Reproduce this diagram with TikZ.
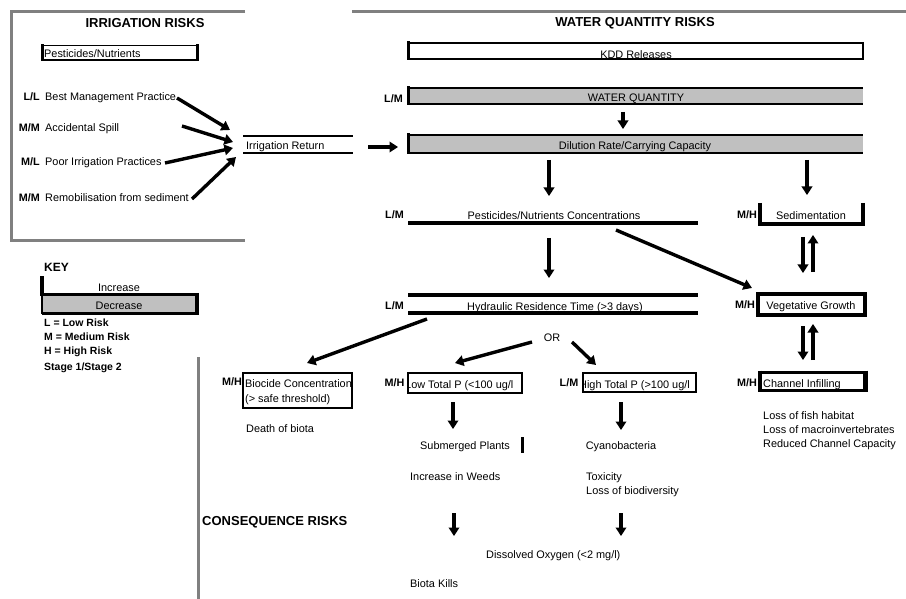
\documentclass[tikz,border=0pt]{standalone}
\usepackage{fontspec}
\setmainfont{Liberation Sans}
\usetikzlibrary{arrows.meta}
\definecolor{framegray}{RGB}{128,128,128}
\definecolor{boxgray}{RGB}{192,192,192}
\tikzset{
  txt/.style={font=\fontsize{10.9}{13}\selectfont, inner sep=0pt},
  risk/.style={font=\bfseries\fontsize{10.8}{13}\selectfont, inner sep=0pt},
  head/.style={font=\bfseries\fontsize{13}{15}\selectfont, inner sep=0pt},
  keytxt/.style={font=\bfseries\fontsize{10.5}{12}\selectfont, inner sep=0pt},
  frame/.style={draw=framegray, line width=3pt},
  arr/.style={-{Triangle[length=8.5pt,width=10.5pt]}, line width=3.4pt},
  bw/.style={line width=#1},
}
\begin{document}
\begin{tikzpicture}[x=1pt,y=-1pt]
\useasboundingbox (0,0) rectangle (906,599);
% frames
\draw[frame] (245,12) -- (11,12) -- (11,241) -- (245,241);
\draw[frame] (352,12) -- (906,12);
\draw[frame] (198,357) -- (198,599);
% headings
\node[head] (irrh) at (145,23) {IRRIGATION RISKS};
\node[head] (wqh) at (635,23) {WATER QUANTITY RISKS};
\node[head, anchor=mid west] (conh) at (202,523) {CONSEQUENCE RISKS};

% ---- irrigation side
\node[txt, anchor=base west] (pn) at (44,58) {Pesticides/Nutrients};
\draw[bw=1pt] (42,46) -- (197,46);
\draw[bw=2.5pt] (42,60) -- (197,60);
\draw[bw=3pt] (42,44.5) -- (42,61.5);
\draw[bw=3pt] (197,44.5) -- (197,61.5);

\node[risk, anchor=mid east] (r1) at (40,98) {L/L};
\node[risk, anchor=mid east] (r2) at (40,129) {M/M};
\node[risk, anchor=mid east] (r3) at (40,163) {M/L};
\node[risk, anchor=mid east] (r4) at (40,199) {M/M};
\node[txt, anchor=mid west] (bmp) at (45,98) {Best Management Practice};
\node[txt, anchor=mid west] (spill) at (45,129) {Accidental Spill};
\node[txt, anchor=mid west] (poor) at (45,163) {Poor Irrigation Practices};
\node[txt, anchor=mid west] (remob) at (45,199) {Remobilisation from sediment};

\node[txt, anchor=mid west] (irret) at (246,146.5) {Irrigation Return};
\draw[bw=1.5pt] (243,136) -- (353,136);
\draw[bw=2.5pt] (243,153) -- (353,153);

\coordinate (a1s) at (177,98);  \coordinate (a1e) at (230,130);
\coordinate (a2s) at (182,126); \coordinate (a2e) at (233,142);
\coordinate (a3s) at (165,163); \coordinate (a3e) at (233,148);
\coordinate (a4s) at (192,199); \coordinate (a4e) at (236,157);
\draw[arr] (a1s) -- (a1e);
\draw[arr] (a2s) -- (a2e);
\draw[arr] (a3s) -- (a3e);
\draw[arr] (a4s) -- (a4e);
\coordinate (a5s) at (368,147); \coordinate (a5e) at (398,147);
\draw[arr] (a5s) -- (a5e);

% ---- water quantity column
\node[txt, anchor=base] (kdd) at (636,58.5) {KDD Releases};
\draw[bw=2.5pt] (408,43) -- (863,43);
\draw[bw=2.5pt] (408,59) -- (863,59);
\draw[bw=3pt] (408,41.5) -- (408,60.5);
\draw[bw=1.5pt] (863,42) -- (863,60);

\fill[boxgray] (408,88) rectangle (863,104);
\node[txt, anchor=base] (wq) at (636,102) {WATER QUANTITY};
\draw[bw=1.2pt] (408,88) -- (863,88);
\draw[bw=2.5pt] (408,104) -- (863,104);
\draw[bw=3pt] (408,86.5) -- (408,105.5);
\node[risk, anchor=mid east] (rwq) at (403,100) {L/M};

\coordinate (a6s) at (623,112); \coordinate (a6e) at (623,129);
\draw[arr] (a6s) -- (a6e);

\fill[boxgray] (408,135) rectangle (863,153);
\node[txt, anchor=base] (dil) at (635,149.5) {Dilution Rate/Carrying Capacity};
\draw[bw=1.2pt] (408,135) -- (863,135);
\draw[bw=2.5pt] (408,153) -- (863,153);
\draw[bw=3pt] (408,133.5) -- (408,154.5);

\coordinate (a7s) at (549,160); \coordinate (a7e) at (549,196);
\draw[arr] (a7s) -- (a7e);
\coordinate (a8s) at (807,160); \coordinate (a8e) at (807,195);
\draw[arr] (a8s) -- (a8e);

\node[txt, anchor=base] (pnc) at (554,220) {Pesticides/Nutrients Concentrations};
\draw[bw=4pt] (408,223) -- (698,223);
\node[risk, anchor=mid east] (rpnc) at (404,216) {L/M};

\node[txt, anchor=base] (sed) at (811,220) {Sedimentation};
\draw[bw=3.5pt] (760,203) -- (760,225.75);
\draw[bw=3.5pt] (863,203) -- (863,225.75);
\draw[bw=3.5pt] (760,224) -- (863,224);
\node[risk, anchor=mid east] (rsed) at (757,216) {M/H};

\coordinate (a9s) at (616,230); \coordinate (a9e) at (752,288);
\draw[arr] (a9s) -- (a9e);
\coordinate (b1s) at (803,237); \coordinate (b1e) at (803,273);
\coordinate (b2s) at (813,272); \coordinate (b2e) at (813,235);
\draw[arr] (b1s) -- (b1e);
\draw[arr] (b2s) -- (b2e);

\coordinate (b3s) at (549,238); \coordinate (b3e) at (549,278);
\draw[arr] (b3s) -- (b3e);

\node[txt, anchor=base] (hyd) at (555,310) {Hydraulic Residence Time (>3 days)};
\draw[bw=4pt] (408,295) -- (698,295);
\draw[bw=4pt] (408,313) -- (698,313);
\node[risk, anchor=mid east] (rhyd) at (404,307) {L/M};

\node[txt, anchor=base] (veg) at (811,309.5) {Vegetative Growth};
\draw[bw=4pt] (758,294) rectangle (865,315);
\node[risk, anchor=mid east] (rveg) at (755,306) {M/H};

\coordinate (b4s) at (803,326); \coordinate (b4e) at (803,360);
\coordinate (b5s) at (813,360); \coordinate (b5e) at (813,324);
\draw[arr] (b4s) -- (b4e);
\draw[arr] (b5s) -- (b5e);

\node[txt, anchor=base west] (chan) at (763,387.5) {Channel Infilling};
\draw[bw=3pt] (760,372) -- (865,372);
\draw[bw=3pt] (760,390) -- (865,390);
\draw[bw=4pt] (760,370.5) -- (760,391.5);
\draw[bw=5pt] (865,370.5) -- (865,391.5);
\node[risk, anchor=mid east] (rchan) at (757,384) {M/H};

\node[txt, anchor=mid west] (c1) at (763,417) {Loss of fish habitat};
\node[txt, anchor=mid west] (c2) at (763,431) {Loss of macroinvertebrates};
\node[txt, anchor=mid west] (c3) at (763,445) {Reduced Channel Capacity};

% ---- OR branch
\node[txt] (or) at (552,338) {OR};
\coordinate (b6s) at (532,342); \coordinate (b6e) at (455,363);
\coordinate (b7s) at (572,342); \coordinate (b7e) at (596,365);
\coordinate (b8s) at (427,319); \coordinate (b8e) at (307,363);
\draw[arr] (b6s) -- (b6e);
\draw[arr] (b7s) -- (b7e);
\draw[arr] (b8s) -- (b8e);

% Biocide
\node[txt, anchor=base west] (bio1) at (245,387.3) {Biocide Concentration};
\node[txt, anchor=base west] (bio2) at (245,402.5) {(> safe threshold)};
\draw[bw=2pt] (243,373) rectangle (352,408);
\node[risk, anchor=mid east] (rbio) at (242,383) {M/H};
\node[txt, anchor=mid west] (death) at (246,430) {Death of biota};

% Low total P
\begin{scope}
  \clip (409,373) rectangle (521,393);
  \node[txt, anchor=base west] (lowp) at (405,388.5) {Low Total P (<100 ug/l};
\end{scope}
\draw[bw=2pt] (408,373) rectangle (522,393);
\node[risk, anchor=mid east] (rlow) at (404.5,384) {M/H};
\coordinate (b9s) at (453,402); \coordinate (b9e) at (453,429);
\draw[arr] (b9s) -- (b9e);
\node[txt, anchor=mid west] (sub) at (420,447) {Submerged Plants};
\draw[bw=3pt] (522,437) -- (522,453);
\node[txt, anchor=mid west] (weeds) at (410,478) {Increase in Weeds};
\coordinate (c4s) at (454,513); \coordinate (c4e) at (454,536);
\draw[arr] (c4s) -- (c4e);

% High total P
\begin{scope}
  \clip (584,373) rectangle (695,392);
  \node[txt, anchor=base west] (highp) at (579,388.5) {High Total P (>100 ug/l};
\end{scope}
\draw[bw=2pt] (583,373) rectangle (696,392);
\node[risk, anchor=mid east] (rhigh) at (578.5,384) {L/M};
\coordinate (c5s) at (621,402); \coordinate (c5e) at (621,430);
\draw[arr] (c5s) -- (c5e);
\node[txt] (cyano) at (621,447) {Cyanobacteria};
\node[txt, anchor=mid west] (tox) at (586,478) {Toxicity};
\node[txt, anchor=mid west] (lossb) at (586,492) {Loss of biodiversity};
\coordinate (c6s) at (621,513); \coordinate (c6e) at (621,536);
\draw[arr] (c6s) -- (c6e);

\node[txt, anchor=mid west] (dox) at (486,556) {Dissolved Oxygen (<2 mg/l)};
\node[txt, anchor=mid west] (kills) at (410,585) {Biota Kills};

% ---- key
\node[head, font=\bfseries\fontsize{12}{14}\selectfont, anchor=mid west] (key) at (44,269) {KEY};
\fill[boxgray] (42,296) rectangle (197,313);
\node[txt] (inc) at (119,288) {Increase};
\node[txt] (dec) at (119,305.5) {Decrease};
\draw[bw=3.5pt] (42,276) -- (42,296);
\draw[bw=3.5pt] (40.25,294.5) -- (197,294.5);
\draw[bw=2pt] (42,294) -- (42,314);
\draw[bw=3pt] (42,313) -- (197,313);
\draw[bw=4pt] (197,292.75) -- (197,314.5);
\node[keytxt, anchor=mid west] (k1) at (44,324) {L = Low Risk};
\node[keytxt, anchor=mid west] (k2) at (44,338) {M = Medium Risk};
\node[keytxt, anchor=mid west] (k3) at (44,352) {H = High Risk};
\node[keytxt, anchor=mid west] (k4) at (44,368) {Stage 1/Stage 2};
\end{tikzpicture}
\end{document}
